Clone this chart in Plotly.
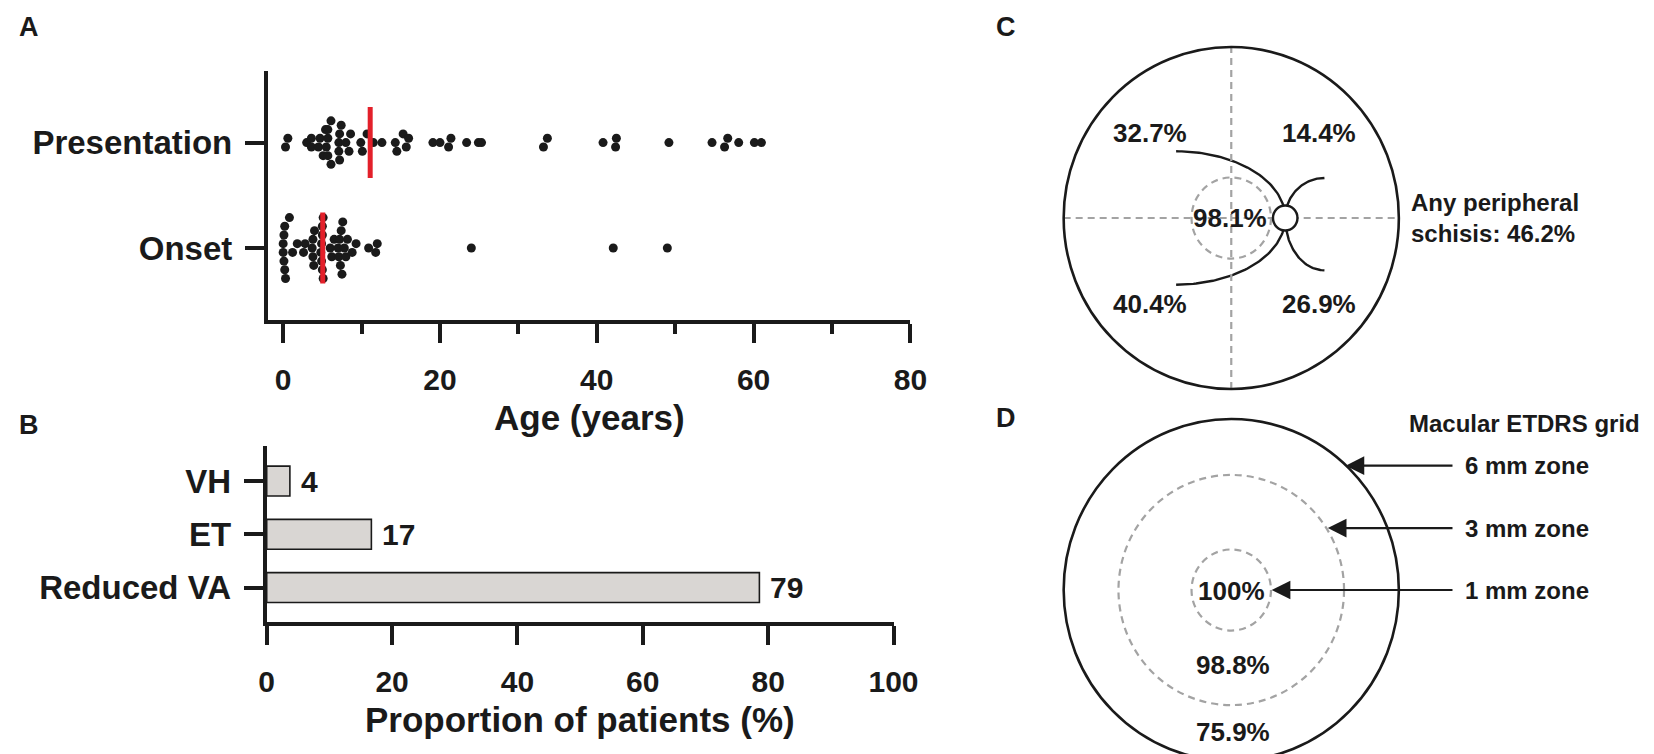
import numpy as np
import plotly.graph_objects as go

W, H = 1654, 754
FONT = "Liberation Sans, Arial, sans-serif"
INK = "#1a1a1a"

# ---------------- data ----------------
presentation_ages = [0.3, 0.6, 3.0, 3.6, 3.6, 4.5, 4.7, 5.1, 5.4, 5.5, 5.7, 5.7,
                     5.7, 6.1, 6.1, 7.1, 7.1, 7.2, 7.2, 7.4, 8.0, 8.4, 8.6, 9.9,
                     10.1, 10.7, 11.5, 12.6, 14.3, 14.5, 15.3, 15.7, 16.0, 19.1,
                     20.0, 21.1, 21.4, 23.4, 24.9, 25.3, 33.2, 33.7, 40.8, 42.4,
                     42.5, 49.2, 54.7, 56.3, 56.7, 58.1, 60.1, 61.0]
onset_ages = [0.0, 0.0, 0.1, 0.1, 0.2, 0.2, 0.3, 0.8, 1.2, 1.8, 2.6, 2.8,
              3.7, 3.8, 3.8, 3.9, 4.0, 4.8, 4.9, 4.9, 5.0, 5.0, 5.0, 5.1, 5.1,
              6.0, 6.2, 6.5, 7.0, 7.1, 7.2, 7.3, 7.4, 7.5, 7.6, 7.8, 8.0, 8.2,
              8.8, 9.3, 10.9, 11.8, 12.0, 24.0, 42.1, 49.0]
age_categories = ["Onset", "Presentation"]
age_ticks = [0, 20, 40, 60, 80]

sign_categories = ["Reduced VA", "ET", "VH"]
sign_values = [78.6, 16.7, 3.7]
proportion_ticks = [0, 20, 40, 60, 80, 100]

c_quadrant_labels = ["32.7%", "14.4%", "40.4%", "26.9%"]   # UL, UR, LL, LR
c_central_label = "98.1%"
c_note = "Any peripheral<br>schisis: 46.2%"

d_zone_names = ["1 mm zone", "3 mm zone", "6 mm zone"]
d_zone_values = ["100%", "98.8%", "75.9%"]
d_title = "Macular ETDRS grid"


# ---------------- layout helpers ----------------
def dom_x(p0, p1):
    return [p0 / W, p1 / W]


def dom_y(top, bottom):
    return [1 - bottom / H, 1 - top / H]


A_X = (257.0, 912.6)
A_Y = (62.5, 311.5)
A_XR = [-1.95, 80]
A_YR = [-0.678, 1.684]
B_X = (255.8, 895.4)
B_Y = (437.5, 614.4)
B_YR = [-0.655, 2.667]

R_PX = 171.0
C_CENTER = (1240.0, 210.0)
D_CENTER = (1240.0, 582.0)
CD_X = (1000.0, 1654.0)
C_Y = (0.0, 392.0)
D_Y = (394.0, 754.0)


def unit_range_x(center):
    return [(CD_X[0] - center[0]) / R_PX, (CD_X[1] - center[0]) / R_PX]


def unit_range_y(center, ytop, ybot):
    return [(center[1] - ybot) / R_PX, (center[1] - ytop) / R_PX]


# ---------------- column-stacked scatter offsets (computed, Prism-like) ----------------
sy = (A_Y[1] - A_Y[0]) / (A_YR[1] - A_YR[0])   # px per category unit


def stack_offsets(vals, bin_years=1.1, gap_px=8.7):
    vals = np.asarray(vals, float)
    bins = np.floor(vals / bin_years + 1e-9).astype(int)
    off = np.zeros(len(vals))
    for b in np.unique(bins):
        idx = np.where(bins == b)[0]
        idx = idx[np.argsort(vals[idx], kind="stable")]
        n = len(idx)
        levels = (np.arange(n) - (n - 1) / 2.0) * gap_px
        lv_order = sorted(levels, key=lambda v: (round(abs(v), 6), v))
        for j, i in enumerate(idx):
            off[i] = lv_order[j]
    return off / sy


fig = go.Figure()

# ---------------- panel A ----------------
groups = {"Onset": onset_ages, "Presentation": presentation_ages}
half = 35.5 / sy
for idx, cat in enumerate(age_categories):
    vals = groups[cat]
    fig.add_trace(go.Scatter(x=vals, y=idx + stack_offsets(vals), mode="markers",
                             marker=dict(size=9, color=INK), xaxis="x", yaxis="y",
                             showlegend=False, cliponaxis=False, name=cat))
for idx, cat in enumerate(age_categories):
    med = float(np.median(groups[cat]))
    fig.add_trace(go.Scatter(x=[med, med], y=[idx - half, idx + half], mode="lines",
                             line=dict(color="#e3202a", width=5), xaxis="x", yaxis="y",
                             showlegend=False, hoverinfo="skip"))

# ---------------- panel B ----------------
fig.add_trace(go.Bar(x=sign_values, y=sign_categories, orientation="h", width=0.56,
                     marker=dict(color="#d9d6d3", line=dict(color=INK, width=1.6)),
                     xaxis="x2", yaxis="y2", showlegend=False))

# ---------------- panel C curves ----------------
t = np.linspace(-np.pi / 2, np.pi / 2, 120)
disc_x = 0.322
left_cx, left_a, left_b = -0.329, 0.651, 0.39
fig.add_trace(go.Scatter(x=left_cx + left_a * np.cos(t), y=left_b * np.sin(t), mode="lines",
                         line=dict(color=INK, width=2.4), xaxis="x3", yaxis="y3",
                         showlegend=False, hoverinfo="skip"))
xe = 0.556
t2 = np.linspace(np.pi / 2, np.pi, 60)
fig.add_trace(go.Scatter(x=xe + (xe - disc_x) * np.cos(t2), y=0.234 * np.sin(t2), mode="lines",
                         line=dict(color=INK, width=2.4), xaxis="x3", yaxis="y3",
                         showlegend=False, hoverinfo="skip"))
t3 = np.linspace(np.pi, 1.5 * np.pi, 60)
fig.add_trace(go.Scatter(x=xe + (xe - disc_x) * np.cos(t3), y=0.306 * np.sin(t3), mode="lines",
                         line=dict(color=INK, width=2.4), xaxis="x3", yaxis="y3",
                         showlegend=False, hoverinfo="skip"))

shapes = []
DASH = dict(color="#a3a3a3", width=2.2, dash="7px,5px")
# C
shapes.append(dict(type="line", xref="x3", yref="y3", x0=0, x1=0, y0=-1, y1=1, line=DASH))
shapes.append(dict(type="line", xref="x3", yref="y3", x0=-1, x1=1, y0=0, y1=0, line=DASH))
shapes.append(dict(type="circle", xref="x3", yref="y3", x0=-0.237, x1=0.237, y0=-0.237, y1=0.237, line=DASH))
shapes.append(dict(type="circle", xref="x3", yref="y3", x0=-1, x1=1, y0=-1, y1=1,
                   line=dict(color=INK, width=2.6)))
shapes.append(dict(type="circle", xref="x3", yref="y3", x0=disc_x - 0.073, x1=disc_x + 0.073,
                   y0=-0.073, y1=0.073, fillcolor="white", line=dict(color=INK, width=2.4)))
# D
shapes.append(dict(type="circle", xref="x4", yref="y4", x0=-0.237, x1=0.237, y0=-0.237, y1=0.237, line=DASH))
shapes.append(dict(type="circle", xref="x4", yref="y4", x0=-0.673, x1=0.673, y0=-0.673, y1=0.673, line=DASH))
shapes.append(dict(type="circle", xref="x4", yref="y4", x0=-1, x1=1, y0=-1, y1=1,
                   line=dict(color=INK, width=2.6)))

ann = []


def bold(size):
    return dict(family=FONT, size=size, color=INK, weight="bold")


# panel letters
for letter, px, py in [("A", 13, 19), ("B", 13, 417), ("C", 1010, 19), ("D", 1010, 410)]:
    ann.append(dict(text=letter, x=px / W, y=1 - py / H, xref="paper", yref="paper",
                    xanchor="center", yanchor="middle", showarrow=False, font=bold(27)))

# axis titles
ann.append(dict(text="Age (years)", x=585.6 / W, y=1 - 409.6 / H, xref="paper", yref="paper",
                xanchor="center", yanchor="middle", showarrow=False, font=bold(35)))
ann.append(dict(text="Proportion of patients (%)", x=575.6 / W, y=1 - 711.5 / H, xref="paper",
                yref="paper", xanchor="center", yanchor="middle", showarrow=False, font=bold(35)))

# bar value labels
for cat, v in zip(sign_categories, sign_values):
    ann.append(dict(text=f"{v:.0f}", x=v, y=cat, xref="x2", yref="y2", xanchor="left",
                    yanchor="middle", xshift=9, showarrow=False, font=bold(30)))

# C texts
quad_pos = [(-0.484, 0.497), (0.522, 0.497), (-0.484, -0.501), (0.522, -0.501)]
for lab, (qx, qy) in zip(c_quadrant_labels, quad_pos):
    ann.append(dict(text=lab, x=qx, y=qy, xref="x3", yref="y3", xanchor="center",
                    yanchor="middle", showarrow=False, font=bold(26)))
ann.append(dict(text=c_central_label, x=-0.006, y=0.0, xref="x3", yref="y3", xanchor="center",
                yanchor="middle", showarrow=False, font=bold(26)))
ann.append(dict(text=c_note, x=1.062, y=0.0, xref="x3", yref="y3", xanchor="left",
                yanchor="middle", align="left", showarrow=False, font=bold(24)))

# D texts
val_pos = [(0.0, -0.007), (0.013, -0.44), (0.013, -0.828)]
for lab, (qx, qy) in zip(d_zone_values, val_pos):
    ann.append(dict(text=lab, x=qx, y=qy, xref="x4", yref="y4", xanchor="center",
                    yanchor="middle", showarrow=False, font=bold(26)))
tips = [(0.241, 0.0), (0.576, 0.362), (0.682, 0.727)]
for name, (tx, ty) in zip(d_zone_names, tips):
    ann.append(dict(text="", x=tx, y=ty, xref="x4", yref="y4", ax=1.329, ay=ty,
                    axref="x4", ayref="y4", showarrow=True, arrowhead=2, arrowsize=1.7,
                    arrowwidth=2.2, arrowcolor=INK, standoff=0))
    ann.append(dict(text=name, x=1.385, y=ty, xref="x4", yref="y4", xanchor="left",
                    yanchor="middle", showarrow=False, font=bold(24)))
ann.append(dict(text=d_title, x=1.048, y=0.971, xref="x4", yref="y4", xanchor="left",
                yanchor="middle", showarrow=False, font=bold(24)))

axis_common = dict(showline=True, linecolor=INK, linewidth=4, ticks="outside", ticklen=19,
                   tickwidth=4, tickcolor=INK, showgrid=False, zeroline=False, fixedrange=True)

fig.update_layout(
    width=W, height=H, margin=dict(l=0, r=0, t=0, b=0),
    paper_bgcolor="white", plot_bgcolor="rgba(0,0,0,0)",
    font=dict(family=FONT, color=INK),
    showlegend=False,
    xaxis=dict(domain=dom_x(*A_X), range=A_XR, anchor="y", tickvals=age_ticks,
               tickfont=bold(30), ticklabelstandoff=11,
               minor=dict(dtick=10, tick0=0, ticks="outside", ticklen=10, tickwidth=4,
                          tickcolor=INK, showgrid=False),
               **axis_common),
    yaxis=dict(domain=dom_y(*A_Y), range=A_YR, anchor="x", tickvals=[0, 1],
               ticktext=age_categories, tickfont=bold(33), ticklabelstandoff=6, **axis_common),
    xaxis2=dict(domain=dom_x(*B_X), range=[0, 100], anchor="y2", tickvals=proportion_ticks,
                tickfont=bold(30), ticklabelstandoff=11, **axis_common),
    yaxis2=dict(domain=dom_y(*B_Y), range=B_YR, anchor="x2", type="category",
                categoryorder="array", categoryarray=sign_categories,
                tickfont=bold(33), ticklabelstandoff=6, **axis_common),
    xaxis3=dict(domain=dom_x(*CD_X), range=unit_range_x(C_CENTER), anchor="y3", visible=False,
                fixedrange=True),
    yaxis3=dict(domain=dom_y(*C_Y), range=unit_range_y(C_CENTER, *C_Y), anchor="x3",
                visible=False, fixedrange=True),
    xaxis4=dict(domain=dom_x(*CD_X), range=unit_range_x(D_CENTER), anchor="y4", visible=False,
                fixedrange=True),
    yaxis4=dict(domain=dom_y(*D_Y), range=unit_range_y(D_CENTER, *D_Y), anchor="x4",
                visible=False, fixedrange=True),
    shapes=shapes, annotations=ann,
)

fig.write_html("out.html")
